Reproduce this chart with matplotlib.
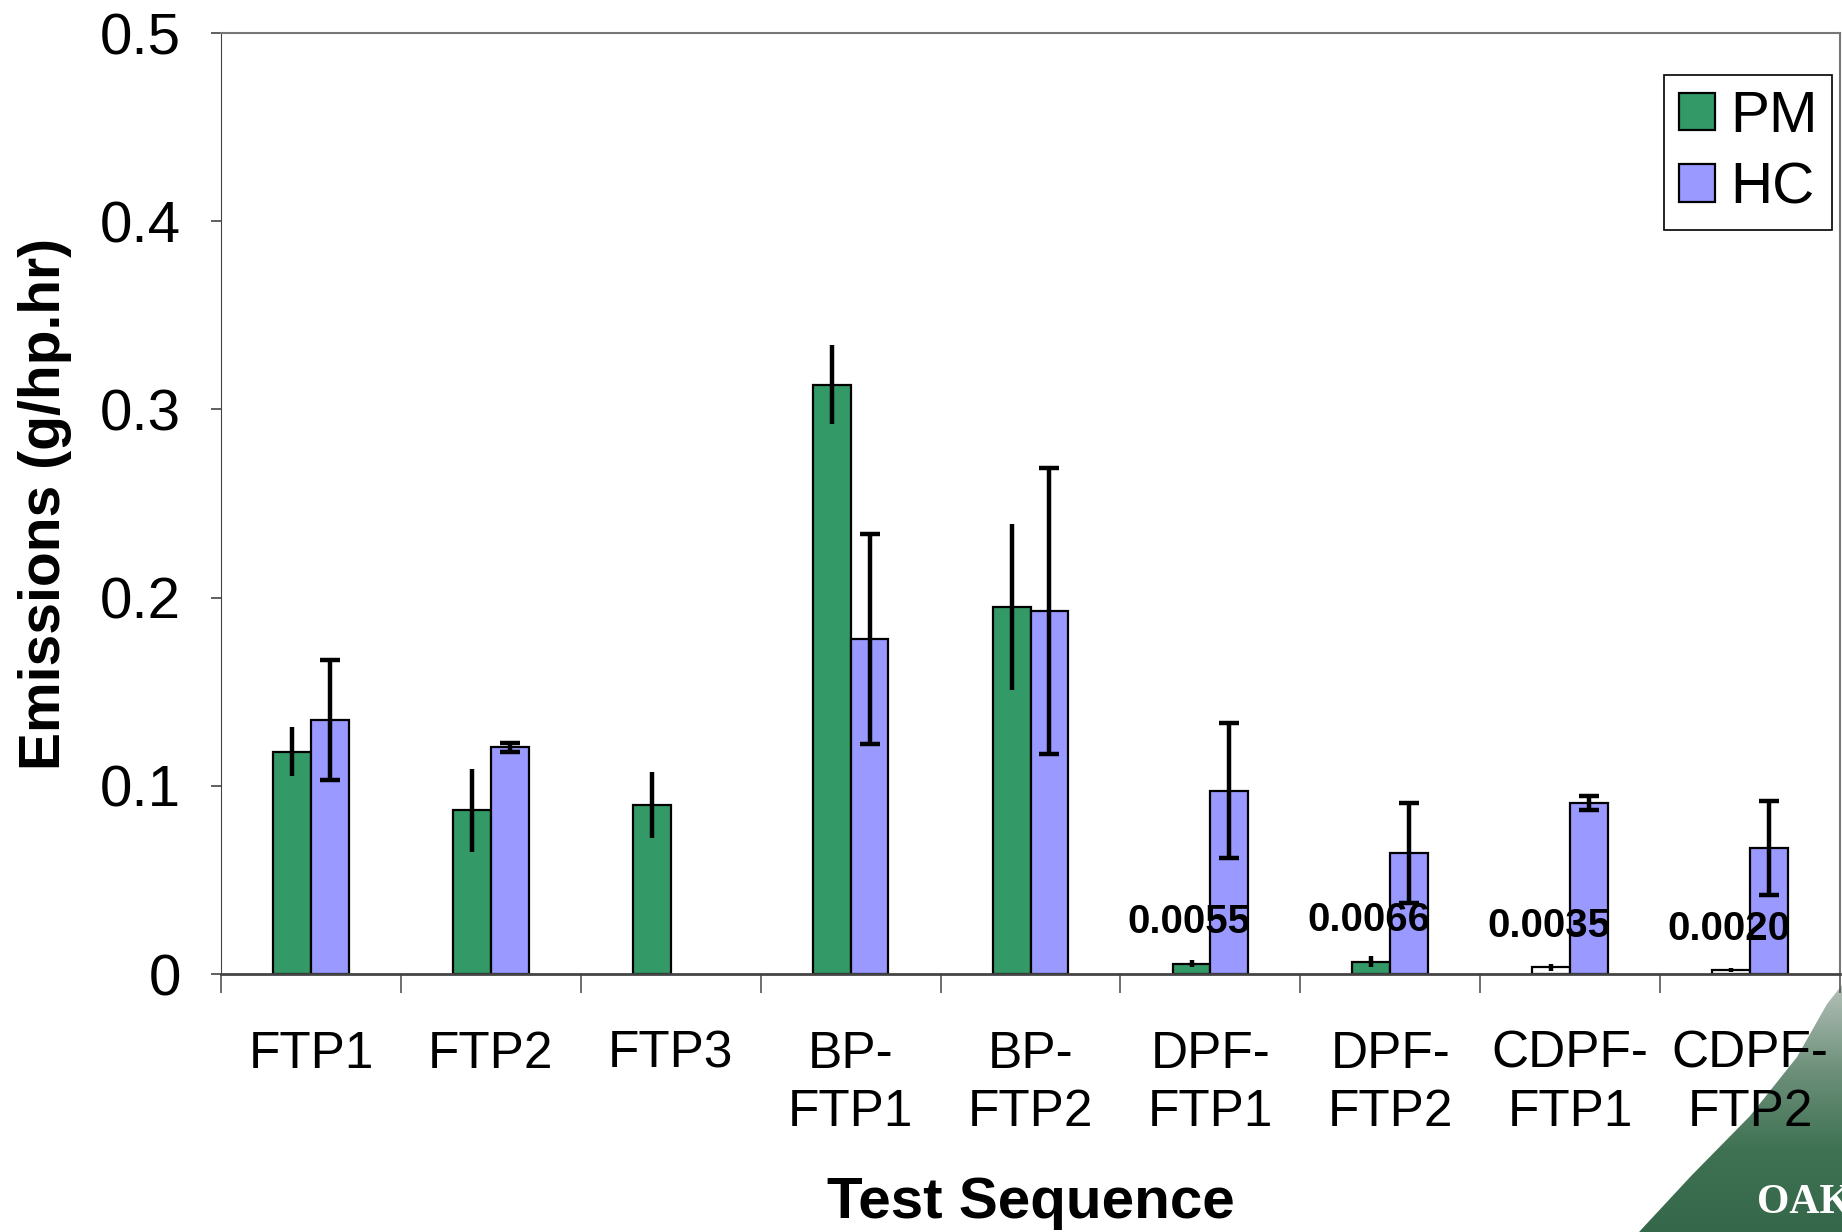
"""Emissions by test sequence: PM and HC bars with error bars."""

import matplotlib

matplotlib.use("Agg")
import matplotlib.patches as mpatches  # noqa: E402
import matplotlib.pyplot as plt  # noqa: E402
import numpy as np  # noqa: E402

plt.rcParams["font.family"] = ["Liberation Sans", "DejaVu Sans"]

categories = ["FTP1", "FTP2", "FTP3", "BP-\nFTP1", "BP-\nFTP2",
              "DPF-\nFTP1", "DPF-\nFTP2", "CDPF-\nFTP1", "CDPF-\nFTP2"]
pm = [0.118, 0.087, 0.090, 0.313, 0.195, 0.0055, 0.0066, 0.0035, 0.0020]
pm_err = [0.013, 0.022, 0.0175, 0.021, 0.044, 0.002, 0.003, 0.002, 0.001]
hc = [0.135, 0.1205, np.nan, 0.178, 0.193, 0.0975, 0.0645, 0.091, 0.0668]
hc_err = [0.032, 0.0025, np.nan, 0.056, 0.076, 0.036, 0.0265, 0.0037, 0.025]
pm_labels = ["", "", "", "", "", "0.0055", "0.0066", "0.0035", "0.0020"]

GREEN = "#339966"
BLUE = "#9999ff"
W = 0.21

fig = plt.figure(figsize=(18.42, 12.32), dpi=100)

# Oak Ridge corner decoration (gradient wedge behind everything)
bg = fig.add_axes([0, 0, 1, 1], zorder=-5)
bg.set_xlim(0, 1842)
bg.set_ylim(1232, 0)
bg.axis("off")
edge = np.array([(1842, 985), (1827, 1004), (1797, 1057), (1750, 1116),
                 (1692, 1175), (1639, 1232), (1842, 1232)])
wedge = mpatches.Polygon(edge, closed=True, facecolor="none", edgecolor="none")
bg.add_patch(wedge)
grad = np.linspace(0, 1, 256).reshape(-1, 1)
cmap = matplotlib.colors.LinearSegmentedColormap.from_list(
    "oak", ["#b4c0b8", "#6f917c", "#3f7253", "#35684a"])
im = bg.imshow(grad, cmap=cmap, extent=(1630, 1842, 1232, 985), aspect="auto")
im.set_clip_path(wedge)
bg.text(1757, 1203, "OAK", fontsize=30, family="Liberation Serif",
        color="white", fontweight="bold", va="center")
bg.text(1757, 1250, "RIDGE", fontsize=30, family="Liberation Serif",
        color="white", fontweight="bold", va="center")

ax = fig.add_axes([0.12, 0.2094, 0.8789, 0.7638])
ax.patch.set_alpha(0)

x = np.arange(len(categories))
pm_colors = [GREEN] * 7 + ["white", "white"]
ax.bar(x - W / 2, pm, W, color=pm_colors, edgecolor="black", lw=1.6, zorder=2)
ax.bar(x + W / 2, hc, W, color=BLUE, edgecolor="black", lw=1.6, zorder=2)
ax.errorbar(x - W / 2, pm, yerr=pm_err, fmt="none", ecolor="black",
            elinewidth=3.2, capsize=0, zorder=3)
ax.errorbar(x + W / 2, hc, yerr=hc_err, fmt="none", ecolor="black",
            elinewidth=3.2, capsize=7, capthick=3.2, zorder=3)

for xi, v, lab in zip(x, pm, pm_labels):
    if lab:
        ax.text(xi - 0.12, v + 0.022, lab, ha="center", va="center",
                fontsize=29, fontweight="bold", zorder=4)

ax.set_xlim(-0.5, len(categories) - 0.5)
ax.set_ylim(0, 0.5)
ax.set_yticks([0, 0.1, 0.2, 0.3, 0.4, 0.5])
ax.set_yticklabels(["0", "0.1", "0.2", "0.3", "0.4", "0.5"])
ax.tick_params(axis="y", labelsize=42, length=7, width=1.2, pad=22, color="#444444")

ax.set_xticks(np.arange(len(categories) + 1) - 0.5)
ax.set_xticklabels([])
ax.tick_params(axis="x", which="major", length=14, width=1.2, color="#555555")
ax.set_xticks(x, minor=True)
ax.set_xticklabels(categories, minor=True, fontsize=37, linespacing=1.25)
ax.tick_params(axis="x", which="minor", length=0, pad=40)

for s in ("top", "right"):
    ax.spines[s].set_color("#777777")
    ax.spines[s].set_linewidth(1.5)
ax.spines["left"].set_color("#444444")
ax.spines["bottom"].set_color("#444444")
ax.spines["bottom"].set_linewidth(2)

ax.set_ylabel("Emissions (g/hp.hr)", fontsize=41, fontweight="bold", labelpad=20)
ax.set_xlabel("Test Sequence", fontsize=42, fontweight="bold", labelpad=28)

handles = [mpatches.Patch(facecolor=GREEN, edgecolor="black", lw=1.6, label="PM"),
           mpatches.Patch(facecolor=BLUE, edgecolor="black", lw=1.6, label="HC")]
leg = ax.legend(handles=handles, loc="upper right", bbox_to_anchor=(0.995, 0.955),
                fontsize=42, fancybox=False, framealpha=1, handlelength=0.62,
                handleheight=0.62, handletextpad=0.25, borderpad=0.25,
                labelspacing=0.3, borderaxespad=0)
leg.get_frame().set_edgecolor("black")
leg.get_frame().set_linewidth(1.2)

fig.savefig("out.png", dpi=100)
